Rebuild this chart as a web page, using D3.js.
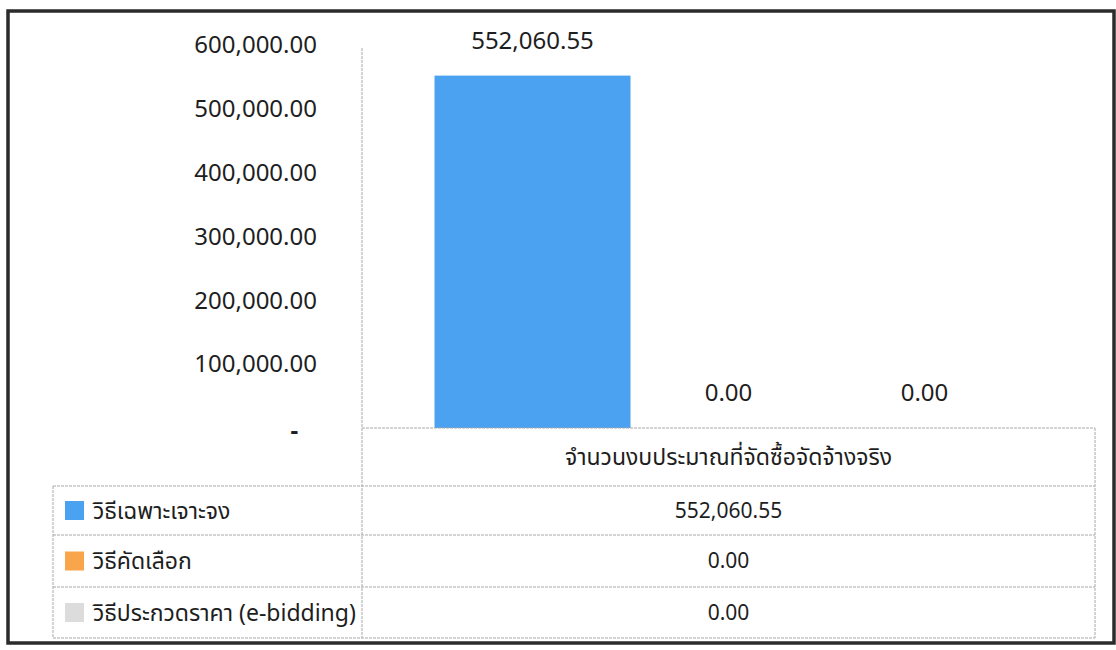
<!DOCTYPE html>
<html>
<head>
<meta charset="utf-8">
<script src="https://cdn.jsdelivr.net/npm/d3@7/dist/d3.min.js"></script>
<style>
  html, body { margin: 0; padding: 0; background: #fff; }
  svg { display: block; }
  text { font-family: "Noto Sans", "Noto Sans Thai", "Noto Sans Thai UI", "Open Sans", Tahoma, sans-serif; fill: #1e1e1e; }
</style>
</head>
<body>
<svg id="chart" width="1116" height="650"></svg>
<script>
const categories = ["จำนวนงบประมาณที่จัดซื้อจัดจ้างจริง"];
const seriesNames = ["วิธีเฉพาะเจาะจง", "วิธีคัดเลือก", "วิธีประกวดราคา (e-bidding)"];
const seriesValues = [552060.55, 0, 0];
const seriesColors = ["#4ba2f1", "#f9a54c", "#dcdcdc"];
const yTicks = [0, 100000, 200000, 300000, 400000, 500000, 600000];

const svg = d3.select("#chart");
const plotLeft = 362, plotRight = 1095, plotTop = 45, plotBottom = 428;
const tableLeft = 53;
const rowLines = [486, 535, 587, 638];
const gridColor = "#a9a9a9";

// outer frame
svg.append("rect").attr("x", 8).attr("y", 11).attr("width", 1106).attr("height", 632)
  .attr("fill", "none").attr("stroke", "#2b2b2b").attr("stroke-width", 3.5);

const y = d3.scaleLinear().domain([0, 600000]).range([plotBottom, plotTop]);
const x0 = d3.scaleBand().domain(categories).range([plotLeft, plotRight]).padding(0);
const x1 = d3.scaleBand().domain(seriesNames).range([0, x0.bandwidth()]).paddingInner(0).paddingOuter(0.37);

// y axis labels
const fmt = d3.format(",.2f");
const yAxis = d3.axisLeft(y).tickValues(yTicks).tickSize(0).tickPadding(45)
  .tickFormat(d => d === 0 ? "-   " : fmt(d));
const ya = svg.append("g").attr("transform", `translate(${plotLeft},0)`).call(yAxis);
ya.select(".domain").remove();
ya.selectAll("text").attr("font-size", 24).style("white-space", "pre")
  .attr("font-family", null).attr("fill", "#1e1e1e");
ya.selectAll(".tick").filter(d => d === 0).select("text").attr("font-weight", "bold").attr("dy", "0.42em");

// vertical axis line (continues through the table)
svg.append("line").attr("x1", plotLeft).attr("x2", plotLeft).attr("y1", 48).attr("y2", rowLines[3])
  .attr("stroke", gridColor).attr("stroke-width", 1).attr("stroke-dasharray", "3,1");

// bars
const g = svg.append("g");
categories.forEach(cat => {
  seriesNames.forEach((s, i) => {
    const v = seriesValues[i];
    const bx = x0(cat) + x1(s);
    g.append("rect").attr("x", bx).attr("y", y(v)).attr("width", x1.bandwidth())
      .attr("height", y(0) - y(v)).attr("fill", seriesColors[i]);
    g.append("text").attr("x", bx + x1.bandwidth() / 2).attr("y", y(v) - 27)
      .attr("text-anchor", "middle").attr("font-size", 24).text(fmt(v));
  });
});

// table lines
const line = (x1_, y1_, x2_, y2_) => svg.append("line")
  .attr("x1", x1_).attr("y1", y1_).attr("x2", x2_).attr("y2", y2_)
  .attr("stroke", gridColor).attr("stroke-width", 1).attr("stroke-dasharray", "3,1");
line(plotLeft, plotBottom, plotRight, plotBottom);
rowLines.forEach(ry => line(tableLeft, ry, plotRight, ry));
line(tableLeft, rowLines[0], tableLeft, rowLines[3]);
line(plotRight, plotBottom, plotRight, rowLines[3]);

// header
categories.forEach(cat => {
  svg.append("text").attr("x", x0(cat) + x0.bandwidth() / 2).attr("y", (plotBottom + rowLines[0]) / 2 + 8)
    .attr("text-anchor", "middle").attr("font-size", 23).text(cat);
});

// rows
seriesNames.forEach((s, i) => {
  const cy = (rowLines[i] + rowLines[i + 1]) / 2;
  svg.append("rect").attr("x", 65).attr("y", cy - 9.5).attr("width", 19).attr("height", 19)
    .attr("fill", seriesColors[i]);
  svg.append("text").attr("x", 93).attr("y", cy + 8).attr("font-size", 23).text(s);
  categories.forEach(cat => {
    svg.append("text").attr("x", x0(cat) + x0.bandwidth() / 2).attr("y", cy + 7)
      .attr("text-anchor", "middle").attr("font-size", 21).text(fmt(seriesValues[i]));
  });
});
</script>
</body>
</html>
